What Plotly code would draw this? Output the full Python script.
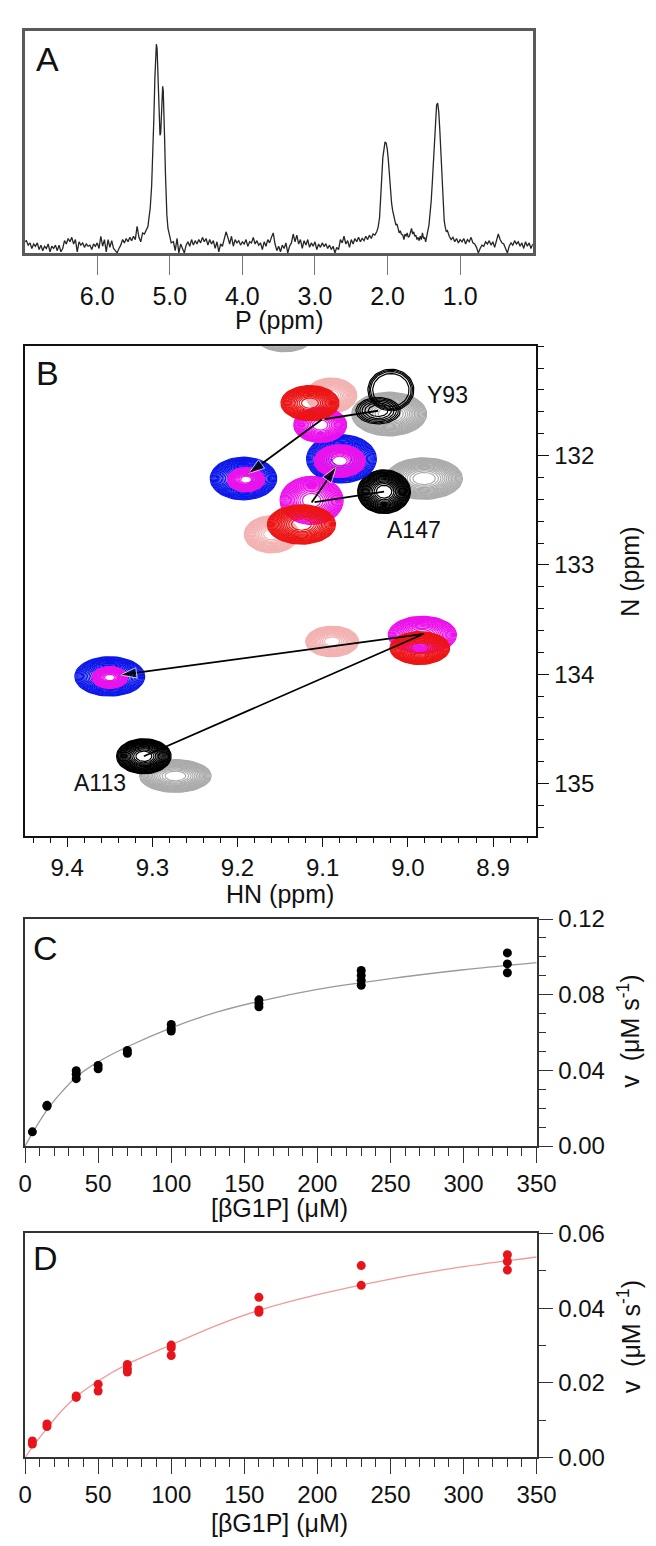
import numpy as np
import plotly.graph_objects as go

W, H = 656, 1546

# ---------------- Panel A : 31P spectrum (ppm, relative intensity) ----------------
p_ppm = [
    7.000, 6.975, 6.950, 6.925, 6.900, 6.875, 6.850, 6.825, 6.800, 6.775,
    6.750, 6.725, 6.700, 6.675, 6.650, 6.625, 6.600, 6.575, 6.550, 6.525,
    6.500, 6.475, 6.450, 6.425, 6.400, 6.375, 6.350, 6.325, 6.300, 6.275,
    6.250, 6.225, 6.200, 6.175, 6.150, 6.125, 6.100, 6.075, 6.050, 6.025,
    6.000, 5.975, 5.950, 5.925, 5.900, 5.875, 5.850, 5.825, 5.800, 5.775,
    5.750, 5.725, 5.700, 5.675, 5.650, 5.625, 5.600, 5.575, 5.550, 5.525,
    5.500, 5.475, 5.450, 5.425, 5.400, 5.375, 5.350, 5.325, 5.300,
    5.290, 5.270, 5.250, 5.235, 5.220, 5.205, 5.195, 5.185, 5.175, 5.165,
    5.155, 5.145, 5.135, 5.125, 5.115, 5.105, 5.098, 5.090, 5.080, 5.070,
    5.060, 5.050, 5.040, 5.025, 5.010, 4.995, 4.980,
    4.950, 4.925, 4.900, 4.875, 4.850, 4.825, 4.800, 4.775, 4.750, 4.725,
    4.700, 4.675, 4.650, 4.625, 4.600, 4.575, 4.550, 4.525, 4.500, 4.475,
    4.450, 4.425, 4.400, 4.375, 4.350, 4.325, 4.300, 4.275, 4.250, 4.225,
    4.200, 4.175, 4.150, 4.125, 4.100, 4.075, 4.050, 4.025, 4.000, 3.975,
    3.950, 3.925, 3.900, 3.875, 3.850, 3.825, 3.800, 3.775, 3.750, 3.725,
    3.700, 3.675, 3.650, 3.625, 3.600, 3.575, 3.550, 3.525, 3.500, 3.475,
    3.450, 3.425, 3.400, 3.375, 3.350, 3.325, 3.300, 3.275, 3.250, 3.225,
    3.200, 3.175, 3.150, 3.125, 3.100, 3.075, 3.050, 3.025, 3.000, 2.975,
    2.950, 2.925, 2.900, 2.875, 2.850, 2.825, 2.800, 2.775, 2.750, 2.725,
    2.700, 2.675, 2.650, 2.625, 2.600, 2.575, 2.550, 2.525, 2.500, 2.475,
    2.450, 2.425, 2.400, 2.375, 2.350, 2.325, 2.300, 2.275, 2.250, 2.225,
    2.200, 2.175, 2.150,
    2.130, 2.110, 2.095, 2.080, 2.065, 2.050, 2.035, 2.020, 2.005, 1.990,
    1.975, 1.960, 1.945, 1.930, 1.915, 1.900, 1.885, 1.870, 1.855, 1.840,
    1.825, 1.810,
    1.790, 1.775, 1.760, 1.745, 1.730, 1.715, 1.700, 1.685, 1.670, 1.655,
    1.640, 1.625, 1.610, 1.595, 1.580, 1.565, 1.550, 1.535, 1.520, 1.505,
    1.490, 1.475, 1.460, 1.445,
    1.430, 1.415, 1.400, 1.385, 1.370, 1.355, 1.340, 1.325, 1.310, 1.295,
    1.280, 1.265, 1.250, 1.235, 1.220, 1.205, 1.190, 1.175, 1.160,
    1.150, 1.125, 1.100, 1.075, 1.050, 1.025, 1.000, 0.975, 0.950, 0.925,
    0.900, 0.875, 0.850, 0.825, 0.800, 0.775, 0.750, 0.725, 0.700, 0.675,
    0.650, 0.625, 0.600, 0.575, 0.550, 0.525, 0.500, 0.475, 0.450, 0.425,
    0.400, 0.375, 0.350, 0.325, 0.300, 0.275, 0.250, 0.225, 0.200, 0.175,
    0.150, 0.125, 0.100, 0.075, 0.050, 0.025, 0.000,
]
p_int = [
    .050, .055, .035, .045, .020, .040, .030, .045, .015, .035,
    .010, .030, .020, .040, .005, .030, .020, .035, .010, .035,
    .005, .020, .055, .040, .065, .050, .070, .040, .060, .005,
    .050, .035, .045, .025, .040, .030, .035, .015, .040, .030,
    .045, .020, .075, .030, .060, .005, .060, .025, .055, .020,
    .010, .000, .020, .035, .060, .045, .065, .050, .070, .055,
    .075, .060, .120, .070, .050, .090, .085, .100, .120,
    .150, .200, .300, .420, .600, .790, .890, .940, .920, .820,
    .690, .590, .530, .540, .630, .720, .750, .730, .640, .500,
    .360, .250, .170, .110, .085, .065, .045,
    .050, .010, .065, .000, .040, .015, .000, .035, .050, .030,
    .060, .035, .055, .040, .060, .045, .070, .050, .065, .035,
    .060, .040, .055, .020, .050, .005, .040, .030, .060, .095,
    .070, .040, .075, .030, .060, .045, .055, .035, .050, .040,
    .060, .030, .050, .045, .070, .040, .055, .035, .045, .015,
    .050, .030, .060, .045, .070, .090, .040, .010, .030, .005,
    .035, .020, .045, .000, .030, .045, .085, .050, .080, .040,
    .060, .020, .055, .035, .060, .025, .045, .030, .050, .015,
    .040, .025, .045, .030, .040, .020, .035, .015, .030, .000,
    .025, .015, .060, .045, .075, .040, .055, .025, .060, .040,
    .065, .050, .070, .050, .065, .055, .075, .060, .080, .065,
    .085, .080, .095,
    .115, .160, .230, .340, .430, .480, .500, .495, .470, .420,
    .350, .280, .225, .190, .165, .150, .125, .130, .110, .090,
    .100, .085,
    .080, .060, .085, .075, .090, .070, .075, .100, .110, .085,
    .095, .075, .080, .060, .070, .055, .075, .060, .090, .065,
    .070, .050, .085, .100,
    .125, .175, .230, .310, .410, .525, .610, .665, .675, .635,
    .550, .430, .310, .210, .145, .115, .095, .100, .080,
    .075, .060, .070, .050, .065, .045, .060, .050, .065, .040,
    .060, .050, .070, .045, .040, .025, .000, .020, .035, .030,
    .050, .040, .055, .035, .050, .025, .055, .085, .060, .045,
    .040, .015, .000, .030, .045, .035, .055, .040, .050, .030,
    .045, .020, .050, .030, .045, .020, .040,
]
a_ticks = [6, 5, 4, 3, 2, 1]

# ---------------- Panel B : 1H-15N peaks (HN ppm, N ppm, half-widths in ppm) ----------------
pink_hn = [9.090, 9.160, 9.089]
pink_n = [131.45, 132.72, 133.70]
pink_dhn = [0.030, 0.032, 0.031]
pink_dn = [0.16, 0.17, 0.14]

grey_hn = [9.145, 9.022, 8.981, 9.273]
grey_n = [130.90, 131.62, 132.21, 134.93]
grey_dhn = [0.035, 0.044, 0.045, 0.042]
grey_dn = [0.15, 0.20, 0.19, 0.15]

black_hn = [9.035, 9.020, 9.028, 9.310]
black_n = [131.59, 131.40, 132.33, 134.75]
black_dhn = [0.026, 0.027, 0.031, 0.032]
black_dn = [0.12, 0.19, 0.20, 0.16]

blue_hn = [9.193, 9.078, 9.350]
blue_n = [132.21, 132.03, 134.02]
blue_dhn = [0.039, 0.041, 0.041]
blue_dn = [0.195, 0.22, 0.18]

magenta_hn = [9.103, 9.190, 9.080, 9.113, 8.983, 9.350]
magenta_n = [131.72, 132.22, 132.05, 132.41, 133.64, 134.03]
magenta_dhn = [0.031, 0.022, 0.030, 0.037, 0.040, 0.021]
magenta_dn = [0.16, 0.11, 0.15, 0.22, 0.17, 0.10]

red_hn = [9.115, 9.125, 8.986]
red_n = [131.52, 132.63, 133.76]
red_dhn = [0.034, 0.040, 0.035]
red_dn = [0.16, 0.18, 0.15]

# arrows: start (black peak), bend, arrow tip
arrow_labels = ["Y93", "A147", "A113"]
arrow_start_hn = [9.035, 9.028, 9.310]
arrow_start_n = [131.59, 132.33, 134.75]
arrow_bend_hn = [9.101, 9.113, 8.981]
arrow_bend_n = [131.67, 132.43, 133.63]
arrow_tip_hn = [9.190, 9.082, 9.341]
arrow_tip_n = [132.18, 132.08, 134.01]
label_hn = [8.953, 8.993, 9.362]
label_n = [131.45, 132.68, 134.99]
b_yticks = [132, 133, 134, 135]

# ---------------- Panel C and D : kinetics ----------------
c_conc = [5, 15, 15, 35, 35, 35, 50, 50, 70, 70, 100, 100, 100,
          160, 160, 160, 230, 230, 230, 230, 330, 330, 330]
c_rate = [0.0075, 0.0215, 0.0210, 0.0398, 0.0380, 0.0356, 0.0426, 0.0408,
          0.0505, 0.0490, 0.0643, 0.0622, 0.0608, 0.0773, 0.0753, 0.0736,
          0.0928, 0.0902, 0.0876, 0.0850, 0.1021, 0.0963, 0.0916]
c_fit_conc = [0, 5, 10, 15, 20, 25, 35, 50, 70, 100, 130, 160, 200, 250, 300, 350]
c_fit_rate = [0.0, 0.0068, 0.0132, 0.0190, 0.0240, 0.0285, 0.0365, 0.0445,
              0.0525, 0.0625, 0.0705, 0.0765, 0.0828, 0.0885, 0.0932, 0.0970]

d_conc = [5, 5, 15, 15, 35, 35, 50, 50, 70, 70, 70, 100, 100, 100,
          160, 160, 160, 230, 230, 330, 330, 330]
d_rate = [0.0044, 0.0036, 0.0090, 0.0083, 0.0165, 0.0161, 0.0196, 0.0178,
          0.0249, 0.0238, 0.0229, 0.0301, 0.0294, 0.0273, 0.0429, 0.0395,
          0.0389, 0.0514, 0.0461, 0.0543, 0.0525, 0.0502]
d_fit_conc = [0, 5, 15, 25, 35, 50, 70, 100, 130, 160, 200, 250, 300, 350]
d_fit_rate = [0.0, 0.0028, 0.0078, 0.0125, 0.0163, 0.0205, 0.0250, 0.0302,
              0.0352, 0.0394, 0.0436, 0.0478, 0.0511, 0.0537]

# ---------------- styling ----------------
FONT = "Liberation Sans, Arial, sans-serif"
COL = {"pink": "#f3b2b2", "grey": "#ababab", "black": "#000000",
       "blue": "#0b16ea", "magenta": "#ec12ec", "red": "#ec1414"}
NR = 18
FULL = list(range(NR))
SPARSE = list(range(0, NR, 3))
LOBE = [0, 2, 4, 7]
ringsets = {
    "pink": [FULL] * 3,
    "grey": [FULL] * 4,
    "black": [SPARSE, LOBE, FULL, FULL],
    "blue": [FULL] * 3,
    "magenta": [FULL] * 6,
    "red": [FULL] * 3,
}
series = [
    ("pink", pink_hn, pink_n, pink_dhn, pink_dn),
    ("grey", grey_hn, grey_n, grey_dhn, grey_dn),
    ("black", black_hn, black_n, black_dhn, black_dn),
    ("blue", blue_hn, blue_n, blue_dhn, blue_dn),
    ("magenta", magenta_hn, magenta_n, magenta_dhn, magenta_dn),
    ("red", red_hn, red_n, red_dhn, red_dn),
]


def px_x(p):
    return p / W


def px_y(p):
    return 1 - p / H


theta = np.linspace(0, 2 * np.pi, 61)


def ring_xy(hn, n, dhn, dn, ks):
    xs, ys = [], []
    for k in ks:
        r = np.sqrt(1 - k / (NR + 0.6))
        xs += list(hn + r * dhn * np.cos(theta)) + [None]
        ys += list(n + r * dn * np.sin(theta)) + [None]
    return xs, ys


fig = go.Figure()

# Panel A
fig.add_trace(go.Scatter(x=p_ppm, y=p_int, mode="lines", xaxis="x", yaxis="y",
                         line=dict(color="#262626", width=1.3), hoverinfo="skip"))

# Panel B contours
for name, hns, ns, dhns, dns in series:
    for i in range(len(hns)):
        xs, ys = ring_xy(hns[i], ns[i], dhns[i], dns[i], ringsets[name][i])
        fig.add_trace(go.Scatter(x=xs, y=ys, mode="lines", xaxis="x2", yaxis="y2",
                                 line=dict(color=COL[name], width=1.2),
                                 hoverinfo="skip"))

# Panel B arrows (polyline with arrowhead marker at the tip)
for i in range(len(arrow_labels)):
    fig.add_trace(go.Scatter(
        x=[arrow_start_hn[i], arrow_bend_hn[i], arrow_tip_hn[i]],
        y=[arrow_start_n[i], arrow_bend_n[i], arrow_tip_n[i]],
        mode="lines+markers", xaxis="x2", yaxis="y2",
        line=dict(color="black", width=1.8),
        marker=dict(symbol="arrow", size=[0, 0, 17], color="black",
                    angleref="previous", standoff=3),
        hoverinfo="skip"))

# Panel C
fig.add_trace(go.Scatter(x=c_fit_conc, y=c_fit_rate, mode="lines", xaxis="x3", yaxis="y3",
                         line=dict(color="#9a9a9a", width=1.3, shape="spline", smoothing=0.8),
                         hoverinfo="skip"))
fig.add_trace(go.Scatter(x=c_conc, y=c_rate, mode="markers", xaxis="x3", yaxis="y3",
                         marker=dict(color="black", size=9), cliponaxis=False))

# Panel D
fig.add_trace(go.Scatter(x=d_fit_conc, y=d_fit_rate, mode="lines", xaxis="x4", yaxis="y4",
                         line=dict(color="#f19a9a", width=1.3, shape="spline", smoothing=0.8),
                         hoverinfo="skip"))
fig.add_trace(go.Scatter(x=d_conc, y=d_rate, mode="markers", xaxis="x4", yaxis="y4",
                         marker=dict(color="#e8141c", size=9), cliponaxis=False))

annotations = []
for i in range(len(arrow_labels)):
    annotations.append(dict(x=label_hn[i], y=label_n[i], xref="x2", yref="y2",
                            text=arrow_labels[i], showarrow=False,
                            font=dict(size=23, color="#111", family=FONT)))


def note(text, x, y, size=25, angle=0):
    annotations.append(dict(text=text, x=px_x(x), y=px_y(y), xref="paper", yref="paper",
                            showarrow=False, textangle=angle, xanchor="center",
                            yanchor="middle", font=dict(size=size, color="#111", family=FONT)))


note("A", 34, 38, 34)
note("B", 34, 357, 34)
note("C", 32, 942, 34)
note("D", 32, 1258, 34)
note("P (ppm)", 275, 303, 25)
note("HN (ppm)", 276, 888, 25)
note("N (ppm)", 642, 560, 25, -90)
note("[βG1P] (μM)", 276, 1207, 25)
note("[βG1P] (μM)", 276, 1528, 25)
note("v  (μM s<sup>-1</sup>)", 640, 1027, 25, -90)
note("v  (μM s<sup>-1</sup>)", 640, 1338, 25, -90)

tickfont = dict(size=24, color="#111", family=FONT)
common = dict(showgrid=False, zeroline=False, showline=True, mirror=True)

fig.update_layout(
    width=W, height=H, margin=dict(l=0, r=0, t=0, b=0),
    paper_bgcolor="white", plot_bgcolor="white", showlegend=False,
    annotations=annotations,
    xaxis=dict(domain=[px_x(10), px_x(540)], range=[7.0, 0.0], anchor="y",
               linecolor="#5a5a5a", linewidth=2.5, ticks="outside", ticklen=19,
               tickcolor="#777", tickwidth=1, tickvals=a_ticks,
               ticktext=[f"{v:.1f}" for v in a_ticks],
               tickfont=dict(size=25, color="#111", family=FONT), **common),
    yaxis=dict(domain=[px_y(235), px_y(9)], range=[0, 1.0], anchor="x",
               linecolor="#5a5a5a", linewidth=2.5, showticklabels=False, ticks="", **common),
    xaxis2=dict(domain=[px_x(10), px_x(543)], range=[9.45, 8.85], anchor="y2",
                linecolor="#111", linewidth=1.5, ticks="outside", ticklen=10, tickwidth=1.3,
                tickcolor="#111", tick0=9.0, dtick=0.1, tickformat=".1f", tickfont=tickfont,
                minor=dict(dtick=0.02, ticklen=6, ticks="outside", tickcolor="#111", tickwidth=1.2),
                **common),
    yaxis2=dict(domain=[px_y(828), px_y(330)], range=[135.475, 131.0], anchor="x2",
                side="right", linecolor="#111", linewidth=1.5, ticks="outside", ticklen=12,
                tickwidth=1.3, tickcolor="#111", tickvals=b_yticks, tickfont=tickfont,
                minor=dict(tick0=131.0, dtick=0.2, ticklen=7, ticks="outside", tickcolor="#111",
                           tickwidth=1.2),
                **common),
    xaxis3=dict(domain=[px_x(10.5), px_x(544)], range=[0, 350], anchor="y3",
                linecolor="#333", linewidth=1.5, ticks="outside", ticklen=15, tickwidth=1.3,
                tickcolor="#333", dtick=50, tickfont=tickfont,
                minor=dict(dtick=10, ticklen=8, ticks="outside", tickcolor="#333", tickwidth=1.2),
                **common),
    yaxis3=dict(domain=[px_y(1144), px_y(913)], range=[0, 0.12], anchor="x3",
                side="right", linecolor="#333", linewidth=1.5, ticks="outside", ticklen=15,
                tickwidth=1.3, tickcolor="#333", dtick=0.04, tickformat=".2f", tickfont=tickfont,
                minor=dict(dtick=0.01, ticklen=8, ticks="outside", tickcolor="#333", tickwidth=1.2),
                **common),
    xaxis4=dict(domain=[px_x(10.5), px_x(544)], range=[0, 350], anchor="y4",
                linecolor="#333", linewidth=1.5, ticks="outside", ticklen=15, tickwidth=1.3,
                tickcolor="#333", dtick=50, tickfont=tickfont,
                minor=dict(dtick=10, ticklen=8, ticks="outside", tickcolor="#333", tickwidth=1.2),
                **common),
    yaxis4=dict(domain=[px_y(1461), px_y(1233)], range=[0, 0.06], anchor="x4",
                side="right", linecolor="#333", linewidth=1.5, ticks="outside", ticklen=15,
                tickwidth=1.3, tickcolor="#333", dtick=0.02, tickformat=".2f", tickfont=tickfont,
                minor=dict(dtick=0.01, ticklen=8, ticks="outside", tickcolor="#333", tickwidth=1.2),
                **common),
)

assert len(p_ppm) == len(p_int)
fig.write_html("out.html")
